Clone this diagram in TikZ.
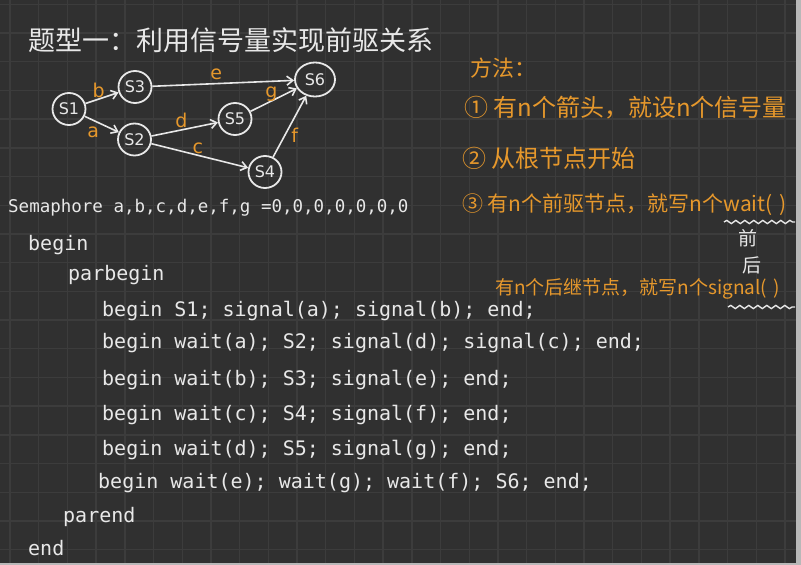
\documentclass[tikz,border=0pt]{standalone}
\usepackage{fontspec}
\setmainfont{DejaVu Sans}
\setmonofont{DejaVu Sans Mono}
\newfontfamily\cjk{Noto Sans CJK SC}
\usetikzlibrary{arrows.meta,shapes.geometric,decorations.pathmorphing}
\definecolor{board}{RGB}{48,48,48}
\definecolor{boardgrid}{RGB}{60,60,60}
\definecolor{boardedge}{RGB}{184,184,184}
\definecolor{chalk}{RGB}{232,232,232}
\definecolor{marker}{RGB}{230,152,44}

\begin{document}
\begin{tikzpicture}[x=1pt, y=-1pt,
  state/.style={draw=chalk, line width=1.8pt, ellipse, minimum width=33pt,
                minimum height=32pt, inner sep=0pt, text=chalk,
                font=\fontsize{16}{16}\selectfont},
  flow/.style={draw=chalk, line width=1.6pt, -{Straight Barb[length=6pt,width=9pt]}},
  elabel/.style={text=marker, inner sep=1pt, font=\fontsize{19}{19}\selectfont},
  code/.style={anchor=west, inner sep=0pt, text=chalk, font=\ttfamily\fontsize{20}{20}\selectfont},
  note/.style={anchor=west, inner sep=0pt, text=marker, font=\cjk\fontsize{24}{24}\selectfont},
  wave/.style={draw=chalk, line width=1.4pt, decorate,
               decoration={snake, amplitude=1.6pt, segment length=9pt}}
]
\useasboundingbox (0,0) rectangle (801,565);
\fill[board] (0,0) rectangle (801,565);
\foreach \i in {0,...,27}
  \draw[boardgrid, line width=1.4pt] ({10+28.7*\i},0) -- ({10+28.7*\i},565);
\foreach \j in {0,...,19}
  \draw[boardgrid, line width=1.4pt] (0,{4.3+28.7*\j}) -- (801,{4.3+28.7*\j});
\fill[boardedge] (796,0) rectangle (801,565);
\fill[boardedge] (0,562.5) rectangle (801,565);

\node[anchor=west, inner sep=0pt, text=chalk, font=\cjk\fontsize{27}{27}\selectfont]
  (title) at (28,40) {题型一：利用信号量实现前驱关系};

\node[state] (s1) at (69,109) {S1};
\node[state] (s3) at (135,87) {S3};
\node[state] (s2) at (134.5,139.5) {S2};
\node[state] (s5) at (235,119) {S5};
\node[state] (s4) at (265,172) {S4};
\node[state, minimum width=40pt, minimum height=34pt] (s6) at (315,79.5) {S6};

\draw[flow] (s1) -- node[elabel, pos=0.4, above] {b} (s3);
\draw[flow] (s1) -- node[elabel, pos=0.5, below left=1pt] {a} (s2);
\draw[flow] (s3) -- node[elabel, pos=0.45, above=2pt] {e} (s6);
\draw[flow] (s2) -- node[elabel, pos=0.45, above] {d} (s5);
\draw[flow] (s5) -- node[elabel, pos=0.45, above=-2pt] {g} (s6);
\draw[flow] (s2) -- node[elabel, pos=0.48, above] {c} (s4);
\draw[flow] (s4) -- node[elabel, pos=0.35, right=5pt] {f} (s6);

\node[note, font=\cjk\fontsize{22}{22}\selectfont] (method) at (470,68) {方法：};
\node[note] (rule1) at (464,108) {① 有n个箭头，就设n个信号量};
\node[note] (rule2) at (462,158) {② 从根节点开始};
\node[note, font=\cjk\fontsize{21}{21}\selectfont] (rule3) at (462,205) {③ 有n个前驱节点，就写n个wait(\,\,)};
\node[note, font=\cjk\fontsize{19}{19}\selectfont] (rule4) at (495,289) {有n个后继节点，就写n个signal(\,\,)};
\draw[wave] (724,222) -- (795,222);
\draw[wave] (728,307) -- (795,307);
\node[text=chalk, inner sep=0pt, font=\cjk\fontsize{19}{19}\selectfont] (before) at (748,238) {前};
\node[text=chalk, inner sep=0pt, font=\cjk\fontsize{19}{19}\selectfont] (after) at (752,265) {后};

\node[code, font=\ttfamily\fontsize{17.5}{17.5}\selectfont] (sem) at (8,208) {Semaphore a,b,c,d,e,f,g =0,0,0,0,0,0,0};
\node[code] (outer) at (28,245) {begin};
\node[code] (par) at (68,275) {parbegin};
\node[code] (p1) at (102,311) {begin S1; signal(a); signal(b); end;};
\node[code] (p2) at (102,343) {begin wait(a); S2; signal(d); signal(c); end;};
\node[code] (p3) at (102,380) {begin wait(b); S3; signal(e); end;};
\node[code] (p4) at (102,415) {begin wait(c); S4; signal(f); end;};
\node[code] (p5) at (102,450) {begin wait(d); S5; signal(g); end;};
\node[code] (p6) at (98,483) {begin wait(e); wait(g); wait(f); S6; end;};
\node[code] (parend) at (63,517) {parend};
\node[code] (outerend) at (28,548) {end};
\end{tikzpicture}
\end{document}
